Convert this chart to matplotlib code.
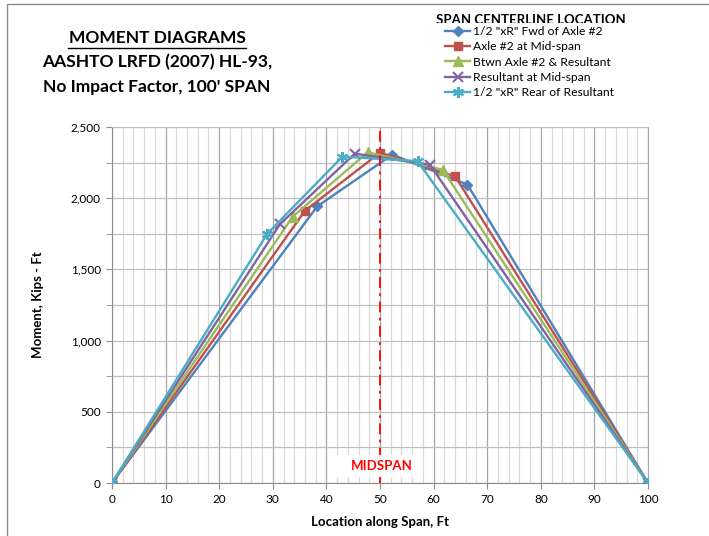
"""
Moment diagrams, AASHTO LRFD HL-93 truck + lane, 100 ft span.
Recreates the Excel chart as out.png.
"""
import matplotlib
matplotlib.use("Agg")
import matplotlib.pyplot as plt
from matplotlib.patches import Rectangle
from matplotlib.ticker import MultipleLocator, FuncFormatter

plt.rcParams.update({
    'font.family': ['Lato', 'DejaVu Sans'],
    'font.size': 8.5,
})

# ---------------------------------------------------------------------------
# data: moment (kip-ft) at supports and under each axle
# ---------------------------------------------------------------------------
LABELS = ['1/2 "xR" Fwd of Axle #2', 'Axle #2 at Mid-span',
          'Btwn Axle #2 & Resultant', 'Resultant at Mid-span',
          '1/2 "xR" Rear of Resultant']
COLORS = ["#4F81BD", "#C0504D", "#9BBB59", "#8064A2", "#4BACC6"]
MARKERS = ["D", "s", "^", "x", "*"]
MSIZES = [5, 6, 6.5, 7, 8]

X_FWD = [0, 38.3, 52.3, 66.3, 100]
M_FWD = [0, 1943, 2306, 2096, 0]
X_AX2 = [0, 36.0, 50.0, 64.0, 100]
M_AX2 = [0, 1912, 2320, 2154, 0]
X_BTW = [0, 33.7, 47.7, 61.7, 100]
M_BTW = [0, 1870, 2322, 2200, 0]
X_RES = [0, 31.3, 45.3, 59.3, 100]
M_RES = [0, 1816, 2313, 2236, 0]
X_REAR = [0, 29.0, 43.0, 57.0, 100]
M_REAR = [0, 1752, 2292, 2260, 0]

SERIES = [(X_FWD, M_FWD), (X_AX2, M_AX2), (X_BTW, M_BTW),
          (X_RES, M_RES), (X_REAR, M_REAR)]
MIDSPAN = 50

W, H = 709, 536
fig = plt.figure(figsize=(W / 100, H / 100), dpi=100)

# chart-area border (only top/left edges fall inside the picture)
fig.add_artist(Rectangle((7 / W, -0.1), 1.2, (H - 4) / H + 0.1,
                         transform=fig.transFigure, fill=False,
                         edgecolor="#8c8c8c", linewidth=1.0))

ax = fig.add_axes([112 / W, 1 - 483 / H, (648 - 112) / W, (483 - 127) / H])

for (xs, ms), lab, col, mk, msz in zip(SERIES, LABELS, COLORS, MARKERS, MSIZES):
    mew = 1.5 if mk in ("x", "*") else 1.0
    if mk == "*":
        mk = (6, 2, 0)
    ax.plot(xs, ms, color=col, linewidth=1.7, marker=mk, markersize=msz,
            markeredgewidth=mew, markerfacecolor=col, markeredgecolor=col,
            label=lab, zorder=3)

ax.axvline(MIDSPAN, color="#FF0000", linestyle=(0, (6, 3, 1.5, 3)),
           linewidth=1.3, zorder=4)
# white text box behind the label (wider than the text, as in Excel)
ax.add_patch(Rectangle((41.6, 45), 16.4, 152, facecolor="white",
                       edgecolor="none", zorder=4.5))
ax.text(MIDSPAN + 0.3, 118, "MIDSPAN", color="#FF0000", fontweight="bold",
        fontsize=9.5, ha="center", va="center", zorder=5)

ax.set_xlim(0, 100)
ax.set_ylim(0, 2500)
ax.xaxis.set_major_locator(MultipleLocator(10))
ax.xaxis.set_minor_locator(MultipleLocator(2))
ax.yaxis.set_major_locator(MultipleLocator(500))
ax.yaxis.set_minor_locator(MultipleLocator(250))
ax.yaxis.set_major_formatter(FuncFormatter(lambda v, p: f"{int(v):,}"))

ax.grid(which="major", axis="x", color="#a6a6a6", linewidth=0.9, zorder=0)
ax.grid(which="minor", axis="x", color="#d9d9d9", linewidth=0.9, zorder=0)
ax.grid(which="both", axis="y", color="#bfbfbf", linewidth=0.9, zorder=0)
ax.set_axisbelow(True)

ax.spines["top"].set_color("#bfbfbf")
ax.spines["right"].set_color("#a6a6a6")
for side in ("left", "bottom"):
    ax.spines[side].set_color("#8c8c8c")
ax.tick_params(which="both", direction="out", color="#8c8c8c",
               labelsize=8.5, pad=4)
ax.tick_params(which="major", length=4)
ax.tick_params(which="minor", length=0)
ax.tick_params(axis="y", which="minor", length=4)

ax.set_xlabel("Location along Span, Ft", fontweight="bold", fontsize=9.5,
              labelpad=8)
ax.set_ylabel("Moment, Kips - Ft", fontweight="bold", fontsize=9.5,
              labelpad=19)

# titles
fig.text(157 / W, 1 - 38 / H, "MOMENT DIAGRAMS", ha="center", va="center",
         fontweight="bold", fontsize=12.5)
fig.add_artist(plt.Line2D([68 / W, 246 / W], [1 - 48 / H, 1 - 48 / H],
                          color="black", linewidth=1.0))
fig.text(157 / W, 1 - 62 / H, "AASHTO LRFD (2007) HL-93,", ha="center",
         va="center", fontweight="bold", fontsize=12.5)
fig.text(157 / W, 1 - 87 / H, "No Impact Factor, 100' SPAN", ha="center",
         va="center", fontweight="bold", fontsize=12.5)

# legend with a clipped title
t = fig.text(531 / W, 1 - 20 / H, "SPAN CENTERLINE LOCATION", ha="center",
             va="center", fontweight="bold", fontsize=9.5)
clip = Rectangle((0, 1 - 23 / H), 1, 0.1, transform=fig.transFigure)
t.set_clip_path(clip)
t.set_clip_on(True)

fig.legend(loc="upper left", bbox_to_anchor=(445 / W, 1 - 26 / H),
           frameon=False, fontsize=8.7, handlelength=2.1, handletextpad=0.2,
           labelspacing=0.36, borderpad=0, borderaxespad=0)

fig.savefig("out.png", dpi=100)
